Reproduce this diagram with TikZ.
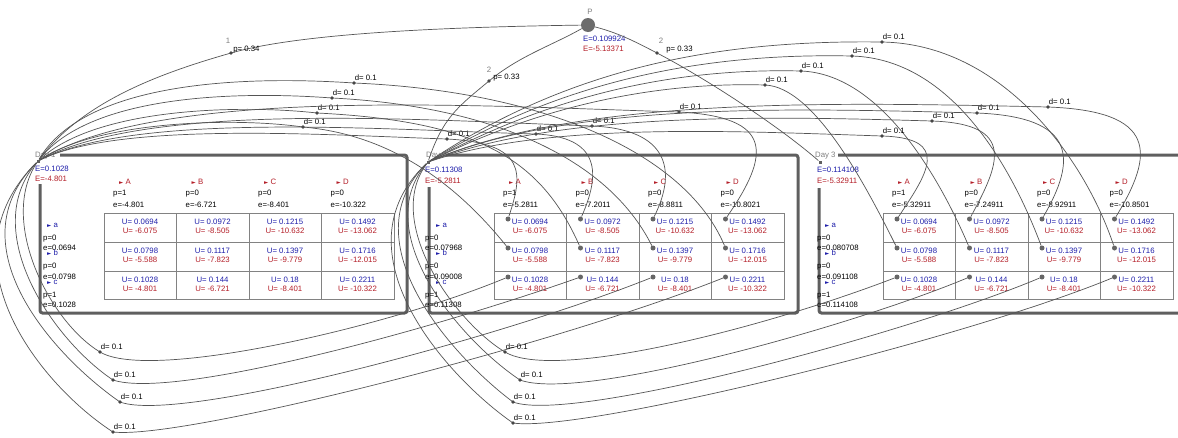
\documentclass[tikz,border=0pt]{standalone}
\usepackage{fontspec}
\setmainfont{Liberation Sans}
\newfontfamily\symf{DejaVu Sans}
\definecolor{ublue}{RGB}{30,30,170}
\definecolor{ured}{RGB}{180,30,40}
\definecolor{boxg}{RGB}{95,95,95}
\definecolor{gridc}{RGB}{130,130,130}
\definecolor{arcg}{RGB}{85,85,85}
\definecolor{mkg}{RGB}{70,70,70}
\tikzset{
  tx/.style={font=\fontsize{7.8}{8.5}\selectfont, inner sep=0pt, text height=5.6pt, text depth=1.5pt},
  bl/.style={tx, text=ublue},
  rd/.style={tx, text=ured},
  bk/.style={tx, text=black},
  gl/.style={tx, text=gray},
  daybox/.style={draw=boxg, line width=3pt, rounded corners=2.5pt},
  gridl/.style={draw=gridc, line width=0.6pt},
  arcl/.style={draw=arcg, line width=0.7pt},
  mk/.style={circle, fill=mkg, inner sep=0pt, minimum size=3.8pt},
  dl/.style={tx, anchor=south west, xshift=0.5pt, yshift=0.5pt},
  cdot/.style={circle, fill=gray!80!black, inner sep=0pt, minimum size=5pt},
  cnr/.style={rectangle, fill=boxg, inner sep=0pt, minimum size=3pt},
}
\newcommand\tri{{\symf\fontsize{5.5}{6}\selectfont ►}}
\newcommand\utable[3]{%
  \draw[gridl] (#1,213) rectangle ({#1+290},299);
  \foreach \kk in {1,2,3} \draw[gridl] ({#1+72.5*\kk},213) -- ({#1+72.5*\kk},299);
  \draw[gridl] (#1,242) -- ({#1+290},242) (#1,271) -- ({#1+290},271);
  \foreach \cc/\col/\va/\wa/\vb/\wb/\vc/\wc in {%
    0/A/0.0694/-6.075/0.0798/-5.588/0.1028/-4.801,
    1/B/0.0972/-8.505/0.1117/-7.823/0.144/-6.721,
    2/C/0.1215/-10.632/0.1397/-9.779/0.18/-8.401,
    3/D/0.1492/-13.062/0.1716/-12.015/0.2211/-10.322}{%
    \node[bl] at ({#1+72.5*\cc+36},222) {U= \va};
    \node[rd] at ({#1+72.5*\cc+36},231.5) {U= \wa};
    \node[bl] at ({#1+72.5*\cc+36},251) {U= \vb};
    \node[rd] at ({#1+72.5*\cc+36},260.5) {U= \wb};
    \node[bl] at ({#1+72.5*\cc+36},280) {U= \vc};
    \node[rd] at ({#1+72.5*\cc+36},289.5) {U= \wc};
    \ifnum#3=1
      \node[cdot] (#2\col a) at ({#1+72.5*\cc+14},219) {};
      \node[cdot] (#2\col b) at ({#1+72.5*\cc+14},248) {};
      \node[cdot] (#2\col c) at ({#1+72.5*\cc+14},277) {};
    \fi
  }%
}
\newcommand\heads[5]{%
  \foreach \cc/\col/\pv/\ev in {0/A/1/#2,1/B/0/#3,2/C/0/#4,3/D/0/#5}{%
    \node[rd,anchor=west] at ({#1+15+72.5*\cc},182) {\tri\ \col};
    \node[bk,anchor=west] at ({#1+9+72.5*\cc},193.5) {p=\pv};
    \node[bk,anchor=west] at ({#1+9+72.5*\cc},205) {e=\ev};
  }%
}
\newcommand\rowlab[5]{%
  \node[bl,anchor=west] at (#2,225) {\tri\ a};
  \node[bk,anchor=west] at (#1,238) {p=0};
  \node[bk,anchor=west] at (#1,248) {e=#3};
  \node[bl,anchor=west] at (#2,253) {\tri\ b};
  \node[bk,anchor=west] at (#1,266) {p=0};
  \node[bk,anchor=west] at (#1,277) {e=#4};
  \node[bl,anchor=west] at (#2,282) {\tri\ c};
  \node[bk,anchor=west] at (#1,295) {p=1};
  \node[bk,anchor=west] at (#1,305) {e=#5};
}
\begin{document}
\begin{tikzpicture}[x=1pt,y=-1pt]
\useasboundingbox (0,0) rectangle (1178,437);
\clip (0,0) rectangle (1178,437);
\fill[white] (0,0) rectangle (1178,437);

% day boxes
\draw[daybox] (60,155) -- (407,155) -- (407,313) -- (40,313) -- (40,184);
\draw[daybox] (446,155) -- (798,155) -- (798,313) -- (429,313) -- (429,187);
\draw[daybox] (838,155) -- (1195,155) -- (1195,313) -- (819,313) -- (819,188);

% tables
\utable{104}{u1}{0}
\utable{494}{d2}{1}
\utable{883}{d3}{1}
\heads{104}{-4.801}{-6.721}{-8.401}{-10.322}
\heads{494}{-5.2811}{-7.2011}{-8.8811}{-10.8021}
\heads{883}{-5.32911}{-7.24911}{-8.92911}{-10.8501}
\rowlab{43}{47}{0.0694}{0.0798}{0.1028}
\rowlab{425}{436}{0.07968}{0.09008}{0.11308}
\rowlab{817}{825}{0.080708}{0.091108}{0.114108}

% day corners and labels
\node[gl,anchor=west] (l1) at (35,155) {Day 1};
\node[cnr] (d1) at (38,161) {};
\node[bl,anchor=west] (e1a) at (35,169) {E=0.1028};
\node[rd,anchor=west] (e1b) at (35,179) {E=-4.801};
\node[gl,anchor=west] (l2) at (426,155) {Day 2};
\node[cnr] (d2) at (428,162) {};
\node[bl,anchor=west] (e2a) at (425,170) {E=0.11308};
\node[rd,anchor=west] (e2b) at (425,181) {E=-5.2811};
\node[gl,anchor=west] (l3) at (815,155) {Day 3};
\node[cnr] (d3) at (820,162) {};
\node[bl,anchor=west] (e3a) at (817,170) {E=0.114108};
\node[rd,anchor=west] (e3b) at (817,181) {E=-5.32911};

% P node
\node[circle, fill=gray!85!black, minimum size=14pt, inner sep=0pt] (P) at (588,25) {};
\node[gl] (pl) at (590,12) {P};
\node[bl,anchor=west] (pe1) at (583,39) {E=0.109924};
\node[rd,anchor=west] (pe2) at (583,49) {E=-5.13371};

% P arcs
\draw[arcl] (P) .. controls +(-140,2) and +(70,-20) .. (231,53) node[mk]{}
  node[bk,anchor=west,xshift=2pt,yshift=4pt]{p= 0.34} node[gl,xshift=-3pt,yshift=12pt]{1}
  .. controls +(-70,20) and +(45,-60) .. (d1);
\draw[arcl] (P) .. controls +(-35,20) and +(30,-25) .. (489,81) node[mk]{}
  node[bk,anchor=west,xshift=4pt,yshift=4pt]{p= 0.33} node[gl,yshift=11pt]{2}
  .. controls +(-30,25) and +(15,-45) .. (d2);
\draw[arcl] (P) .. controls +(30,8) and +(-25,-13) .. (657,53) node[mk]{}
  node[bk,anchor=west,xshift=9pt,yshift=4pt]{p= 0.33} node[gl,xshift=4pt,yshift=12pt]{2}
  .. controls +(50,26) and +(-40,-35) .. (d3);

% Day1 -> Day2 row b
\draw[arcl] (d1) .. controls +(60,-40) and +(-70,-10) .. (303,127) node[mk]{} node[dl]{d= 0.1} .. controls +(90,8) and +(-50,-62) .. (d2Ab);
\draw[arcl] (d1) .. controls +(60,-55) and +(-70,-8) .. (317,113) node[mk]{} node[dl]{d= 0.1} .. controls +(160,8) and +(-40,-90) .. (d2Bb);
\draw[arcl] (d1) .. controls +(55,-70) and +(-80,-6) .. (332,98) node[mk]{} node[dl]{d= 0.1} .. controls +(160,8) and +(-45,-90) .. (d2Cb);
\draw[arcl] (d1) .. controls +(50,-85) and +(-90,-6) .. (354,83) node[mk]{} node[dl]{d= 0.1} .. controls +(190,8) and +(-40,-95) .. (d2Db);
% Day1 -> Day2 row a
\draw[arcl] (d1) .. controls +(80,-40) and +(-120,-4) .. (447,139) node[mk]{} node[dl]{d= 0.1} .. controls +(80,4) and +(15,-45) .. (d2Aa);
\draw[arcl] (d1) .. controls +(100,-50) and +(-150,-4) .. (536,134) node[mk]{} node[dl]{d= 0.1} .. controls +(65,3) and +(20,-45) .. (d2Ba);
\draw[arcl] (d1) .. controls +(110,-60) and +(-170,-6) .. (592,126) node[mk]{} node[dl]{d= 0.1} .. controls +(75,3) and +(25,-50) .. (d2Ca);
\draw[arcl] (d1) .. controls +(120,-75) and +(-200,-6) .. (679,112) node[mk]{} node[dl]{d= 0.1} .. controls +(95,5) and +(45,-65) .. (d2Da);
% Day1 -> Day2 row c
\draw[arcl] (d1) .. controls +(-40,60) and +(-50,-30) .. (100,352) node[mk]{} node[dl]{d= 0.1} .. controls +(50,30) and +(-120,50) .. (d2Ac);
\draw[arcl] (d1) .. controls +(-60,70) and +(-60,-40) .. (113,380) node[mk]{} node[dl]{d= 0.1} .. controls +(60,20) and +(-150,53) .. (d2Bc);
\draw[arcl] (d1) .. controls +(-85,85) and +(-65,-45) .. (120,402) node[mk]{} node[dl]{d= 0.1} .. controls +(60,22) and +(-150,60) .. (d2Cc);
\draw[arcl] (d1) .. controls +(-100,100) and +(-70,-45) .. (113,432) node[mk]{} node[dl]{d= 0.1} .. controls +(70,8) and +(-170,68) .. (d2Dc);

% Day2 -> Day3 row b
\draw[arcl] (d2) .. controls +(120,-60) and +(-100,-3) .. (765,85) node[mk]{} node[dl]{d= 0.1} .. controls +(50,2) and +(-30,-60) .. (d3Ab);
\draw[arcl] (d2) .. controls +(130,-70) and +(-120,-3) .. (801,71) node[mk]{} node[dl]{d= 0.1} .. controls +(80,3) and +(-30,-70) .. (d3Bb);
\draw[arcl] (d2) .. controls +(140,-85) and +(-140,-3) .. (852,56) node[mk]{} node[dl]{d= 0.1} .. controls +(100,3) and +(-30,-80) .. (d3Cb);
\draw[arcl] (d2) .. controls +(150,-100) and +(-150,-2) .. (882,42) node[mk]{} node[dl]{d= 0.1} .. controls +(120,2) and +(-30,-90) .. (d3Db);
% Day2 -> Day3 row a
\draw[arcl] (d2) .. controls +(120,-40) and +(-150,-5) .. (882,136) node[mk]{} node[dl]{d= 0.1} .. controls +(70,2) and +(30,-45) .. (d3Aa);
\draw[arcl] (d2) .. controls +(130,-50) and +(-170,-5) .. (932,121) node[mk]{} node[dl]{d= 0.1} .. controls +(85,3) and +(30,-55) .. (d3Ba);
\draw[arcl] (d2) .. controls +(140,-60) and +(-190,-5) .. (977,113) node[mk]{} node[dl]{d= 0.1} .. controls +(100,4) and +(35,-60) .. (d3Ca);
\draw[arcl] (d2) .. controls +(150,-65) and +(-220,-5) .. (1048,107) node[mk]{} node[dl]{d= 0.1} .. controls +(110,4) and +(40,-65) .. (d3Da);
% Day2 -> Day3 row c
\draw[arcl] (d2) .. controls +(-45,60) and +(-50,-30) .. (505,352) node[mk]{} node[dl]{d= 0.1} .. controls +(50,30) and +(-130,50) .. (d3Ac);
\draw[arcl] (d2) .. controls +(-60,70) and +(-60,-40) .. (520,380) node[mk]{} node[dl]{d= 0.1} .. controls +(60,22) and +(-120,50) .. (d3Bc);
\draw[arcl] (d2) .. controls +(-80,80) and +(-60,-45) .. (513,402) node[mk]{} node[dl]{d= 0.1} .. controls +(60,22) and +(-130,55) .. (d3Cc);
\draw[arcl] (d2) .. controls +(-95,90) and +(-65,-45) .. (513,423) node[mk]{} node[dl]{d= 0.1} .. controls +(70,10) and +(-150,62) .. (d3Dc);
\end{tikzpicture}
\end{document}
